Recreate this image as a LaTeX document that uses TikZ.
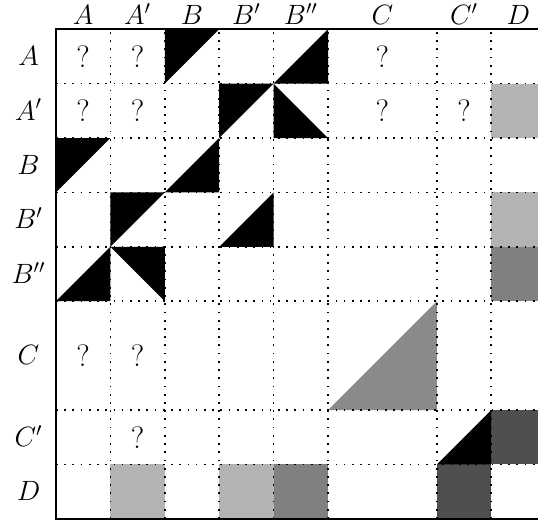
\RequirePackage{fix-cm}
\documentclass[tikz,border=0pt]{standalone}
\definecolor{lightg}{HTML}{B3B3B3}
\definecolor{midg}{HTML}{808080}
\definecolor{darkg}{HTML}{4F4F4F}
\definecolor{trig}{HTML}{8A8A8A}
\begin{document}
\begin{tikzpicture}[x=1cm,y=1cm,
  lbl/.style={font=\fontsize{14.6}{18}\selectfont, inner sep=0pt},
  collbl/.style={lbl, anchor=base},
  rowlbl/.style={lbl, anchor=base},
  qm/.style={font=\fontsize{16.2}{19}\selectfont, inner sep=0pt},
  griddot/.style={line width=0.9pt, dash pattern=on 0.9pt off 3.4pt},
  framestyle/.style={line width=1pt},
  blk/.style={fill=black},
  lightcell/.style={fill=lightg},
  midcell/.style={fill=midg},
  darkcell/.style={fill=darkg},
  greytri/.style={fill=trig}
]
\useasboundingbox (-1.029,-0.086) rectangle (8.860,9.537);

% light, mid and dark grey cells (column D and row D)
\fill[lightcell] (8,7) rectangle (9,8);
\fill[lightcell] (8,5) rectangle (9,6);
\fill[midcell]   (8,4) rectangle (9,5);
\fill[darkcell]  (8,1) rectangle (9,2);
\fill[lightcell] (1,0) rectangle (2,1);
\fill[lightcell] (3,0) rectangle (4,1);
\fill[midcell]   (4,0) rectangle (5,1);
\fill[darkcell]  (7,0) rectangle (8,1);

% grey triangle in the double C block
\fill[greytri] (5,2) -- (7,2) -- (7,4) -- cycle;

% black half cells
\fill[blk] (2,9) -- (3,9) -- (2,8) -- cycle;   % A,B   upper left
\fill[blk] (4,8) -- (5,8) -- (5,9) -- cycle;   % A,B'' lower right
\fill[blk] (3,8) -- (4,8) -- (3,7) -- cycle;   % A',B' upper left
\fill[blk] (4,8) -- (4,7) -- (5,7) -- cycle;   % A',B'' lower left
\fill[blk] (0,7) -- (1,7) -- (0,6) -- cycle;   % B,A   upper left
\fill[blk] (2,6) -- (3,6) -- (3,7) -- cycle;   % B,B   lower right
\fill[blk] (1,6) -- (2,6) -- (1,5) -- cycle;   % B',A' upper left
\fill[blk] (3,5) -- (4,5) -- (4,6) -- cycle;   % B',B' lower right
\fill[blk] (0,4) -- (1,4) -- (1,5) -- cycle;   % B'',A lower right
\fill[blk] (1,5) -- (2,5) -- (2,4) -- cycle;   % B'',A' upper right
\fill[blk] (7,1) -- (8,1) -- (8,2) -- cycle;   % C',C' lower right

% dotted cell boundaries
\foreach \x in {1,2,3,4,5,7,8}
  \draw[griddot] (\x,0) -- (\x,9);
\foreach \y in {1,2,4,5,6,7,8}
  \draw[griddot] (0,\y) -- (9,\y);

% outer frame
\draw[framestyle] (0,0) rectangle (9,9);

% column labels
\node[collbl] (cA)   at (0.5,9.093) {$A$};
\node[collbl] (cAp)  at (1.5,9.093) {$A'$};
\node[collbl] (cB)   at (2.5,9.093) {$B$};
\node[collbl] (cBp)  at (3.5,9.093) {$B'$};
\node[collbl] (cBpp) at (4.5,9.093) {$B''$};
\node[collbl] (cC)   at (6.0,9.093) {$C$};
\node[collbl] (cCp)  at (7.5,9.093) {$C'$};
\node[collbl] (cD)   at (8.5,9.093) {$D$};

% row labels
\node[rowlbl] (rA)   at (-0.505,8.33) {$A$};
\node[rowlbl] (rAp)  at (-0.505,7.33) {$A'$};
\node[rowlbl] (rB)   at (-0.505,6.33) {$B$};
\node[rowlbl] (rBp)  at (-0.505,5.33) {$B'$};
\node[rowlbl] (rBpp) at (-0.505,4.33) {$B''$};
\node[rowlbl] (rC)   at (-0.505,2.83) {$C$};
\node[rowlbl] (rCp)  at (-0.505,1.33) {$C'$};
\node[rowlbl] (rD)   at (-0.505,0.33) {$D$};

% unknown entries
\node[qm] (qAA)   at (0.5,8.5) {?};
\node[qm] (qAAp)  at (1.5,8.5) {?};
\node[qm] (qAC)   at (6.0,8.5) {?};
\node[qm] (qApA)  at (0.5,7.5) {?};
\node[qm] (qApAp) at (1.5,7.5) {?};
\node[qm] (qApC)  at (6.0,7.5) {?};
\node[qm] (qApCp) at (7.5,7.5) {?};
\node[qm] (qCA)   at (0.5,3.0) {?};
\node[qm] (qCAp)  at (1.5,3.0) {?};
\node[qm] (qCpAp) at (1.5,1.5) {?};
\end{tikzpicture}
\end{document}
